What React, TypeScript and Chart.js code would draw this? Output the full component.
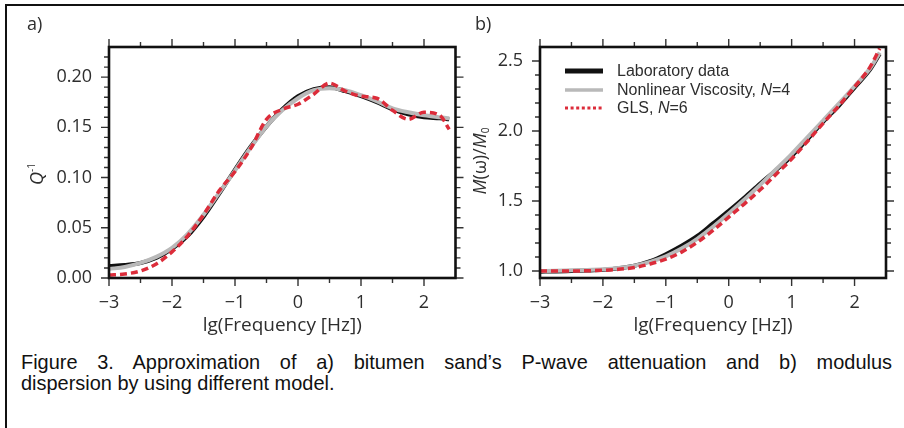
import React, { useEffect, useRef } from 'react';
import { Chart, registerables } from 'chart.js';
Chart.register(...registerables);

// ---------------- data ----------------
const lgFreq = [-3, -2.75, -2.5, -2.25, -2, -1.75, -1.5, -1.25, -1, -0.75, -0.5, -0.25, 0, 0.25, 0.5, 0.75, 1, 1.25, 1.5, 1.75, 2, 2.25, 2.4];

// a) attenuation Q^-1
const qLab = [0.012, 0.013, 0.015, 0.020, 0.029, 0.042, 0.061, 0.084, 0.108, 0.131, 0.151, 0.168, 0.181, 0.188, 0.190, 0.186, 0.181, 0.175, 0.168, 0.163, 0.160, 0.159, 0.158];
const qNv = [0.009, 0.011, 0.015, 0.021, 0.030, 0.044, 0.063, 0.085, 0.107, 0.130, 0.151, 0.167, 0.179, 0.187, 0.189, 0.187, 0.182, 0.176, 0.169, 0.165, 0.162, 0.160, 0.159];
const qGls = [0.003, 0.004, 0.007, 0.014, 0.026, 0.042, 0.063, 0.087, 0.106, 0.129, 0.158, 0.168, 0.173, 0.183, 0.194, 0.186, 0.181, 0.179, 0.167, 0.158, 0.165, 0.162, 0.148];

// b) modulus dispersion M(w)/M0
const mLab = [0.995, 0.997, 1.0, 1.003, 1.008, 1.02, 1.038, 1.07, 1.12, 1.18, 1.25, 1.34, 1.43, 1.525, 1.625, 1.72, 1.82, 1.94, 2.065, 2.18, 2.31, 2.44, 2.55];
const mNv = [1.0, 1.002, 1.005, 1.008, 1.013, 1.022, 1.038, 1.065, 1.105, 1.16, 1.23, 1.315, 1.41, 1.51, 1.615, 1.725, 1.835, 1.955, 2.075, 2.195, 2.32, 2.45, 2.56];
const mGls = [1.0, 1.0, 1.0, 1.002, 1.005, 1.012, 1.025, 1.05, 1.085, 1.135, 1.205, 1.29, 1.385, 1.48, 1.58, 1.69, 1.80, 1.925, 2.055, 2.18, 2.315, 2.46, 2.59];

const seriesNames = ['Laboratory data', 'Nonlinear Viscosity, N=4', 'GLS, N=6'];
const xTitle = 'lg(Frequency [Hz])';
const captionLine1 = 'Figure 3. Approximation of a) bitumen sand\u2019s P-wave attenuation and b) modulus';
const captionLine2 = 'dispersion by using different model.';

// ---------------- styles ----------------
const TICK_FONT = 'Open Sans';
const TEXT_COLOR = '#2e2e2e';
const COLORS = ['#111111', '#b9b9b9', '#dc2c3a'];

const fmtNum = (v: number, d: number) => {
  const s = Math.abs(v).toFixed(d);
  return v < -1e-9 ? '\u2212' + s : s;
};

type Run = { text: string; font: string; dy?: number };
function drawRuns(ctx: CanvasRenderingContext2D, runs: Run[], x: number, y: number, center = false) {
  let total = 0;
  const widths = runs.map(r => { ctx.font = r.font; const w = ctx.measureText(r.text).width; total += w; return w; });
  let cx = center ? x - total / 2 : x;
  runs.forEach((r, i) => {
    ctx.font = r.font;
    ctx.fillText(r.text, cx, y + (r.dy || 0));
    cx += widths[i];
  });
  return total;
}

function frameTicks(chart: any, yStep: number, yMajor: number) {
  const { ctx, chartArea: a, scales } = chart;
  const xs = scales.x, ys = scales.y;
  ctx.save();
  ctx.strokeStyle = '#333';
  ctx.lineWidth = 1.4;
  ctx.beginPath();
  const xStep = 0.5;
  for (let i = Math.ceil(xs.min / xStep - 1e-9); i * xStep < xs.max - 1e-9; i++) {
    const v = i * xStep;
    const major = Math.abs(v - Math.round(v)) < 1e-6;
    const len = major ? 8 : 5;
    const px = xs.getPixelForValue(v);
    ctx.moveTo(px, a.bottom); ctx.lineTo(px, a.bottom + len);
    ctx.moveTo(px, a.top); ctx.lineTo(px, a.top - len);
  }
  for (let i = Math.ceil(ys.min / yStep - 1e-9); i * yStep < ys.max - 1e-9; i++) {
    const v = i * yStep;
    const r = v / yMajor;
    const major = Math.abs(r - Math.round(r)) < 1e-6;
    const len = major ? 8 : 5;
    const py = ys.getPixelForValue(v);
    ctx.moveTo(a.left, py); ctx.lineTo(a.left - len, py);
    ctx.moveTo(a.right, py); ctx.lineTo(a.right + len, py);
  }
  ctx.stroke();
  ctx.strokeStyle = '#111';
  ctx.lineWidth = 2.6;
  ctx.strokeRect(a.left, a.top, a.right - a.left, a.bottom - a.top);
  ctx.restore();
}

const panelAPlugin = {
  id: 'panelA',
  afterDraw(chart: any) {
    frameTicks(chart, 0.01, 0.05);
    const ctx = chart.ctx as CanvasRenderingContext2D;
    ctx.save();
    ctx.fillStyle = TEXT_COLOR;
    ctx.textBaseline = 'middle';
    ctx.font = `18px "${TICK_FONT}"`;
    ctx.fillText('a)', 27, 25);
    // y title Q^-1
    ctx.translate(38, 174);
    ctx.rotate(-Math.PI / 2);
    drawRuns(ctx, [
      { text: 'Q', font: `italic 18px "${TICK_FONT}"` },
      { text: '-1', font: `10px "${TICK_FONT}"`, dy: -6 },
    ], 0, 0, true);
    ctx.restore();
  },
};

const panelBPlugin = {
  id: 'panelB',
  afterDraw(chart: any) {
    frameTicks(chart, 0.1, 0.5);
    const ctx = chart.ctx as CanvasRenderingContext2D;
    const ox = -452; // canvas offset in page
    ctx.save();
    ctx.fillStyle = TEXT_COLOR;
    ctx.textBaseline = 'middle';
    ctx.font = `18px "${TICK_FONT}"`;
    ctx.fillText('b)', 475 + ox, 25);
    // y title
    ctx.save();
    ctx.translate(481 + ox, 161);
    ctx.rotate(-Math.PI / 2);
    drawRuns(ctx, [
      { text: 'M', font: `italic 18px "${TICK_FONT}"` },
      { text: '(\u03c9)/', font: `18px "${TICK_FONT}"` },
      { text: 'M', font: `italic 18px "${TICK_FONT}"` },
      { text: '0', font: `10px "${TICK_FONT}"`, dy: 5 },
    ], 0, 0, true);
    ctx.restore();
    // legend
    const ds = chart.data.datasets;
    const rows = [71, 90, 108];
    const lx0 = 565 + ox, lx1 = 603 + ox, tx = 617 + ox;
    const widths = [5, 3.5, 3];
    ds.forEach((d: any, i: number) => {
      ctx.save();
      ctx.strokeStyle = d.borderColor;
      ctx.lineWidth = widths[i];
      ctx.setLineDash(i === 2 ? [3, 2.6] : []);
      ctx.beginPath();
      ctx.moveTo(lx0, rows[i]);
      ctx.lineTo(lx1, rows[i]);
      ctx.stroke();
      ctx.restore();
    });
    ctx.fillStyle = TEXT_COLOR;
    const f = '16px "Liberation Sans", Arial, sans-serif';
    const fi = 'italic 16px "Liberation Sans", Arial, sans-serif';
    drawRuns(ctx, [{ text: seriesNames[0], font: f }], tx, rows[0] + 1);
    drawRuns(ctx, [
      { text: 'Nonlinear Viscosity, ', font: f },
      { text: 'N', font: fi },
      { text: '=4', font: f },
    ], tx, rows[1] + 1);
    drawRuns(ctx, [
      { text: 'GLS, ', font: f },
      { text: 'N', font: fi },
      { text: '=6', font: f },
    ], tx, rows[2] + 1);
    ctx.restore();
  },
};

const toPts = (ys: number[]) => lgFreq.map((x, i) => ({ x, y: ys[i] }));

function makeDatasets(series: number[][]) {
  return series.map((s, i) => ({
    label: seriesNames[i],
    data: toPts(s),
    borderColor: COLORS[i],
    borderWidth: i === 0 ? 4 : i === 1 ? 4 : 3.5,
    borderDash: i === 2 ? [7, 4] : [],
    borderCapStyle: 'butt',
    pointRadius: 0,
    fill: false,
    cubicInterpolationMode: 'monotone',
    order: 3 - i,
  }));
}

function makeConfig(series: number[][], yMin: number, yMax: number, yStep: number, yDec: number,
  yWidth: number, xHeight: number, padding: any, plugin: any) {
  const tickFont = { family: TICK_FONT, size: 18 };
  return {
    type: 'line',
    data: { datasets: makeDatasets(series) },
    options: {
      animation: false,
      responsive: false,
      devicePixelRatio: 1,
      layout: { padding },
      plugins: { legend: { display: false }, tooltip: { enabled: false } },
      scales: {
        x: {
          type: 'linear', min: -3, max: 2.5,
          grid: { display: false, drawTicks: false },
          border: { display: false },
          ticks: { stepSize: 1, includeBounds: false, padding: 14, font: tickFont, color: TEXT_COLOR, maxRotation: 0,
            callback: (v: any) => fmtNum(Number(v), 0) },
          title: { display: true, text: xTitle, font: { family: TICK_FONT, size: 19 }, color: TEXT_COLOR, padding: { top: 0, bottom: 8 } },
          afterFit: (s: any) => { s.height = xHeight; },
        },
        y: {
          type: 'linear', min: yMin, max: yMax,
          grid: { display: false, drawTicks: false },
          border: { display: false },
          ticks: { stepSize: yStep, includeBounds: false, padding: 17, font: tickFont, color: TEXT_COLOR,
            callback: (v: any) => Number(v).toFixed(yDec) },
          afterFit: (s: any) => { s.width = yWidth; },
        },
      },
    },
    plugins: [plugin],
  } as any;
}

function Panel(props: { left: number; width: number; height: number; config: any }) {
  const ref = useRef<HTMLCanvasElement>(null);
  useEffect(() => {
    const c = new Chart(ref.current as HTMLCanvasElement, props.config);
    return () => c.destroy();
  }, []);
  return (
    <canvas ref={ref} width={props.width} height={props.height}
      style={{ position: 'absolute', left: props.left, top: 0, width: props.width, height: props.height }} />
  );
}

export default function App() {
  const cfgA = makeConfig([qLab, qNv, qGls], 0, 0.23, 0.05, 2, 109, 345 - 278, { left: 0, top: 47, right: 470 - 455.5, bottom: 0 }, panelAPlugin);
  const cfgB = makeConfig([mLab, mNv, mGls], 0.95, 2.6, 0.5, 1, 540 - 452, 345 - 278, { left: 0, top: 47, right: 904 - 886, bottom: 0 }, panelBPlugin);
  const sx = 0.95;
  return (
    <div style={{ position: 'absolute', left: 0, top: 0, width: 904, height: 428, overflow: 'hidden', background: '#fff' }}>
      <div style={{ position: 'absolute', left: 5, top: 4, width: 904, height: 430, borderTop: '2px solid #111', borderLeft: '2px solid #111' }} />
      <Panel left={0} width={470} height={345} config={cfgA} />
      <Panel left={452} width={452} height={345} config={cfgB} />
      <div style={{ position: 'absolute', left: 21, top: 351, width: 871 / sx, transform: `scaleX(${sx})`, transformOrigin: 'left top',
        fontFamily: '"Liberation Sans", Arial, sans-serif', fontSize: 21, lineHeight: '21px', color: '#111' }}>
        <div style={{ textAlign: 'justify', textAlignLast: 'justify' as any }}>{captionLine1}</div>
        <div>{captionLine2}</div>
      </div>
    </div>
  );
}
